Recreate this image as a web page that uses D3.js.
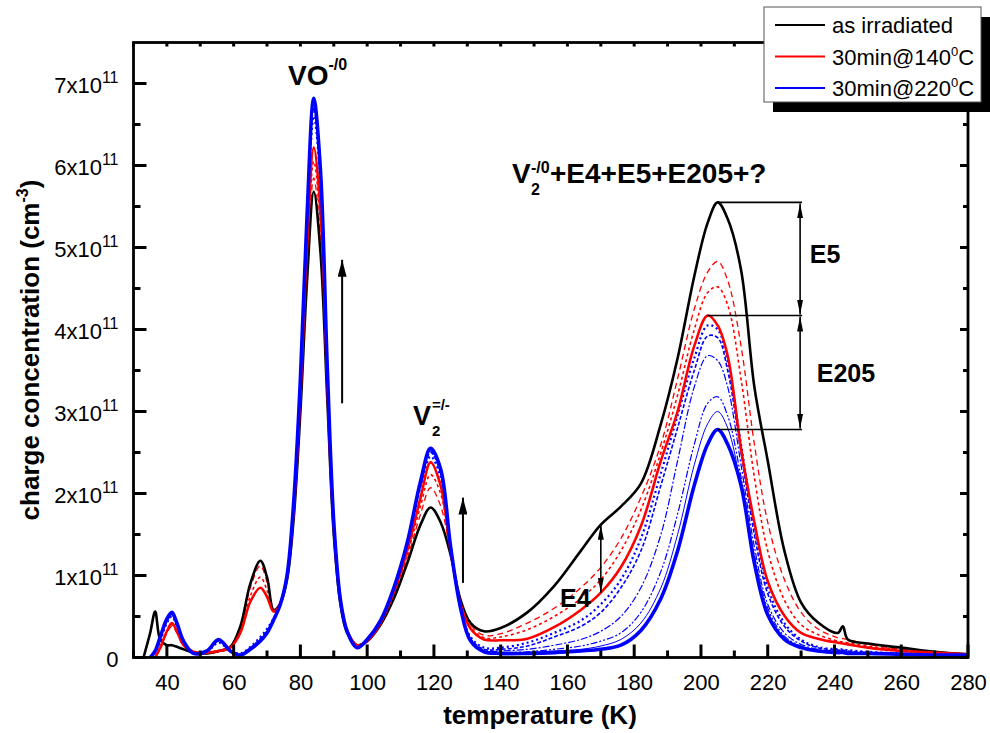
<!DOCTYPE html>
<html>
<head>
<meta charset="utf-8">
<script src="https://cdn.jsdelivr.net/npm/d3@7"></script>
<style>
  body { margin: 0; background: #fff; }
  svg { display: block; font-family: "Liberation Sans", Arial, sans-serif; }
</style>
</head>
<body>
<div id="chart"></div>
<script>
// temperature grid (K) shared by every spectrum
const temps = [
  30, 33, 35, 36.5, 38, 40, 41.5, 43, 45, 48,
  52, 55.5, 59, 62, 65, 68, 70, 72, 74, 76,
  78, 80, 82, 84, 86, 88, 90, 92, 94, 97,
  100, 104, 108, 112, 116, 119, 122, 125, 128, 131,
  135, 140, 148, 156, 164, 170, 176, 182, 188, 193,
  198, 202, 205, 208, 212, 216, 220, 225, 230, 235,
  241, 242.5, 244, 250, 260, 270, 280
];

// charge concentration, in units of 1e11 cm^-3
const asIrradiated = [
  null, 0, 0.3, 0.56, 0.22, 0.15, 0.15, 0.13, 0.1, 0.06,
  0.05, 0.08, 0.13, 0.38, 0.9, 1.18, 0.98, 0.58, 0.66, 0.95,
  1.7, 3.0, 4.6, 5.68, 4.95, 3.2, 1.5, 0.65, 0.3, 0.15,
  0.2, 0.4, 0.72, 1.15, 1.62, 1.83, 1.65, 1.25, 0.7, 0.42,
  0.32, 0.36, 0.55, 0.87, 1.3, 1.62, 1.84, 2.12, 2.85, 3.65,
  4.65, 5.3, 5.55, 5.35, 4.73, 3.3, 2.4, 1.3, 0.67, 0.43,
  0.3, 0.38, 0.22, 0.17, 0.12, 0.07, 0.04
];
const anneal140 = [
  null, null, null, 0, 0.12, 0.32, 0.42, 0.32, 0.15, 0.07,
  0.06, 0.08, 0.12, 0.3, 0.68, 0.85, 0.74, 0.56, 0.66, 1.0,
  1.8, 3.2, 5.0, 6.22, 5.45, 3.4, 1.6, 0.7, 0.33, 0.15,
  0.2, 0.42, 0.8, 1.3, 1.95, 2.38, 2.1, 1.3, 0.65, 0.35,
  0.22, 0.21, 0.23, 0.37, 0.58, 0.79, 1.1, 1.6, 2.4, 3.0,
  3.8, 4.17, 4.05, 3.68, 2.55, 1.65, 0.93, 0.51, 0.3, 0.23,
  0.18, 0.17, 0.16, 0.12, 0.08, 0.06, 0.04
];
const anneal220 = [
  null, null, 0, 0.08, 0.25, 0.47, 0.55, 0.42, 0.2, 0.05,
  0.08, 0.22, 0.08, 0.03, 0.1, 0.2, 0.3, 0.46, 0.65, 1.0,
  1.9, 3.4, 5.4, 6.82, 5.95, 3.6, 1.65, 0.7, 0.32, 0.12,
  0.22, 0.45, 0.85, 1.4, 2.15, 2.55, 2.3, 1.35, 0.6, 0.2,
  0.07, 0.05, 0.05, 0.06, 0.08, 0.1, 0.15, 0.33, 0.72, 1.3,
  2.1, 2.6, 2.78, 2.6, 2.1, 1.15, 0.52, 0.22, 0.12, 0.08,
  0.06, 0.06, 0.05, 0.05, 0.04, 0.03, 0.03
];

// intermediate annealing steps
const redDashed = [
  null, null, null, 0, 0.1, 0.3, 0.38, 0.3, 0.14, 0.06,
  0.05, 0.07, 0.12, 0.36, 0.85, 1.12, 0.92, 0.57, 0.66, 0.97,
  1.72, 3.05, 4.7, 5.85, 5.1, 3.25, 1.52, 0.66, 0.31, 0.15,
  0.2, 0.41, 0.76, 1.2, 1.75, 2.07, 1.85, 1.28, 0.68, 0.4,
  0.27, 0.29, 0.42, 0.6, 0.85, 1.1, 1.45, 1.95, 2.6, 3.4,
  4.25, 4.7, 4.83, 4.6, 3.8, 2.6, 1.65, 0.95, 0.55, 0.35,
  0.24, 0.23, 0.22, 0.16, 0.1, 0.06, 0.04
];
const redDotted = [
  null, null, null, 0, 0.11, 0.31, 0.4, 0.31, 0.15, 0.06,
  0.05, 0.07, 0.12, 0.33, 0.75, 0.98, 0.82, 0.56, 0.66, 0.98,
  1.75, 3.1, 4.85, 6.05, 5.3, 3.3, 1.55, 0.68, 0.32, 0.15,
  0.2, 0.42, 0.78, 1.25, 1.85, 2.23, 2.0, 1.3, 0.67, 0.37,
  0.24, 0.25, 0.34, 0.5, 0.72, 0.95, 1.3, 1.8, 2.5, 3.2,
  4.0, 4.45, 4.52, 4.3, 3.4, 2.2, 1.3, 0.7, 0.4, 0.28,
  0.2, 0.19, 0.18, 0.14, 0.09, 0.06, 0.04
];
const blueDotted = [
  null, null, 0, 0.06, 0.2, 0.42, 0.5, 0.38, 0.18, 0.05,
  0.07, 0.18, 0.08, 0.05, 0.13, 0.25, 0.35, 0.48, 0.66, 1.0,
  1.85, 3.3, 5.2, 6.6, 5.8, 3.5, 1.6, 0.7, 0.32, 0.13,
  0.22, 0.45, 0.85, 1.38, 2.08, 2.45, 2.2, 1.33, 0.62, 0.25,
  0.12, 0.12, 0.18, 0.3, 0.45, 0.65, 0.95, 1.45, 2.25, 2.95,
  3.65, 4.05, 4.0, 3.6, 2.6, 1.6, 0.85, 0.42, 0.22, 0.13,
  0.1, 0.1, 0.09, 0.07, 0.05, 0.04, 0.03
];
const blueDashed = [
  null, null, 0, 0.07, 0.22, 0.44, 0.52, 0.4, 0.19, 0.05,
  0.07, 0.2, 0.08, 0.04, 0.12, 0.23, 0.33, 0.47, 0.65, 1.0,
  1.87, 3.35, 5.3, 6.7, 5.85, 3.55, 1.62, 0.7, 0.32, 0.12,
  0.22, 0.45, 0.85, 1.4, 2.1, 2.5, 2.25, 1.34, 0.61, 0.23,
  0.1, 0.1, 0.14, 0.25, 0.38, 0.55, 0.85, 1.3, 2.1, 2.8,
  3.5, 3.92, 3.9, 3.5, 2.5, 1.5, 0.78, 0.38, 0.2, 0.12,
  0.09, 0.09, 0.08, 0.06, 0.05, 0.04, 0.03
];
const blueDashDot = [
  null, null, 0, 0.07, 0.23, 0.45, 0.53, 0.41, 0.2, 0.05,
  0.08, 0.21, 0.08, 0.03, 0.11, 0.21, 0.31, 0.46, 0.65, 1.0,
  1.88, 3.38, 5.35, 6.75, 5.9, 3.58, 1.64, 0.7, 0.32, 0.12,
  0.22, 0.45, 0.85, 1.4, 2.12, 2.52, 2.27, 1.34, 0.6, 0.22,
  0.08, 0.08, 0.1, 0.15, 0.22, 0.32, 0.5, 0.85, 1.5, 2.4,
  3.3, 3.68, 3.62, 3.3, 2.35, 1.35, 0.65, 0.3, 0.16, 0.1,
  0.08, 0.08, 0.07, 0.06, 0.04, 0.03, 0.03
];
const blueDashDotDot = [
  null, null, 0, 0.08, 0.24, 0.46, 0.54, 0.41, 0.2, 0.05,
  0.08, 0.22, 0.08, 0.03, 0.1, 0.2, 0.3, 0.46, 0.65, 1.0,
  1.9, 3.4, 5.35, 6.7, 5.9, 3.6, 1.65, 0.7, 0.32, 0.12,
  0.22, 0.45, 0.85, 1.4, 2.14, 2.54, 2.29, 1.35, 0.6, 0.21,
  0.07, 0.06, 0.07, 0.1, 0.14, 0.2, 0.3, 0.55, 1.05, 1.75,
  2.6, 3.1, 3.18, 2.95, 2.2, 1.25, 0.6, 0.26, 0.14, 0.09,
  0.07, 0.07, 0.06, 0.05, 0.04, 0.03, 0.03
];
const blueThin = [
  null, null, 0, 0.08, 0.25, 0.47, 0.55, 0.42, 0.2, 0.05,
  0.08, 0.22, 0.08, 0.03, 0.1, 0.2, 0.3, 0.46, 0.65, 1.0,
  1.9, 3.4, 5.4, 6.78, 5.92, 3.6, 1.65, 0.7, 0.32, 0.12,
  0.22, 0.45, 0.85, 1.4, 2.15, 2.55, 2.3, 1.35, 0.6, 0.2,
  0.07, 0.06, 0.06, 0.08, 0.1, 0.14, 0.22, 0.42, 0.85, 1.5,
  2.35, 2.85, 3.0, 2.8, 2.1, 1.2, 0.55, 0.24, 0.13, 0.08,
  0.06, 0.06, 0.06, 0.05, 0.04, 0.03, 0.03
];

const xTicks = [40, 60, 80, 100, 120, 140, 160, 180, 200, 220, 240, 260, 280];
const xMinorTicks = [30, 50, 70, 90, 110, 130, 150, 170, 190, 210, 230, 250, 270];
const yTicks = [0, 1, 2, 3, 4, 5, 6, 7];
const yMinorTicks = [0.5, 1.5, 2.5, 3.5, 4.5, 5.5, 6.5];

const legendItems = [
  { text: 'as irradiated', color: '#000' },
  { text: '30min@140', sup: '0', tail: 'C', color: '#ff0000' },
  { text: '30min@220', sup: '0', tail: 'C', color: '#0000ff' }
];

const width = 990;
const height = 733;

const svg = d3.select('#chart').append('svg')
  .attr('width', width)
  .attr('height', height);

const x = d3.scaleLinear().domain([30, 280]).range([133.5, 968]);
const y = d3.scaleLinear().domain([0, 7.5]).range([657.5, 42.5]);

const defs = svg.append('defs');
defs.append('clipPath').attr('id', 'plot')
  .append('rect')
  .attr('x', x(30)).attr('y', y(7.5))
  .attr('width', x(280) - x(30)).attr('height', y(0) - y(7.5));

function addHead(id, len, wide) {
  defs.append('marker')
    .attr('id', id)
    .attr('viewBox', `0 0 ${len} ${wide}`)
    .attr('refX', len).attr('refY', wide / 2)
    .attr('markerWidth', len).attr('markerHeight', wide)
    .attr('markerUnits', 'userSpaceOnUse')
    .attr('orient', 'auto-start-reverse')
    .append('path')
    .attr('d', `M0,0L${len},${wide / 2}L0,${wide}Z`)
    .attr('fill', '#000');
}
addHead('head', 17, 9);
addHead('headSmall', 15, 6);

// spectra, thin intermediate steps first
const series = [
  { values: blueThin, color: '#0000ff', width: 1, dash: null },
  { values: blueDashDotDot, color: '#0000ff', width: 1.2, dash: '7,2,2,2,2,2' },
  { values: blueDashDot, color: '#0000ff', width: 1.2, dash: '7,2,2,2' },
  { values: blueDashed, color: '#0000ff', width: 1.6, dash: '4,2' },
  { values: blueDotted, color: '#0000ff', width: 2.2, dash: '2,3' },
  { values: redDotted, color: '#ff0000', width: 1.6, dash: '3,3' },
  { values: redDashed, color: '#ff0000', width: 1.3, dash: '6,4' },
  { values: asIrradiated, color: '#000000', width: 2.6, dash: null },
  { values: anneal140, color: '#ff0000', width: 2.6, dash: null },
  { values: anneal220, color: '#0000ff', width: 3.6, dash: null }
];

const line = d3.line()
  .defined(d => d[1] != null)
  .x(d => x(d[0]))
  .y(d => y(d[1]))
  .curve(d3.curveCatmullRom.alpha(0.5));

svg.append('g')
  .attr('clip-path', 'url(#plot)')
  .selectAll('path')
  .data(series)
  .enter().append('path')
  .attr('d', s => line(temps.map((t, i) => [t, s.values[i]])))
  .attr('fill', 'none')
  .attr('stroke', s => s.color)
  .attr('stroke-width', s => s.width)
  .attr('stroke-dasharray', s => s.dash)
  .attr('stroke-linejoin', 'round');

// tick labels from d3 axes, tick marks drawn inward by hand
function styleAxis(g) {
  g.select('.domain').remove();
  g.selectAll('.tick line').remove();
  g.attr('font-family', null).attr('font-size', 22);
  g.selectAll('.tick text').attr('fill', '#000');
}

svg.append('g')
  .attr('transform', `translate(0,${y(0)})`)
  .call(d3.axisBottom(x).tickValues(xTicks).tickSize(0).tickPadding(17))
  .call(styleAxis);

const yAxis = svg.append('g')
  .attr('transform', `translate(${x(30)},0)`)
  .call(d3.axisLeft(y).tickValues(yTicks).tickSize(0).tickPadding(15))
  .call(styleAxis);
yAxis.selectAll('.tick text').each(function(d) {
  const t = d3.select(this).text(null).attr('dy', '0.4em');
  if (d === 0) {
    t.text('0');
    return;
  }
  t.append('tspan').text(d + 'x10');
  t.append('tspan').attr('dy', -10).attr('font-size', 16).text('11');
});

const ticks = svg.append('g')
  .attr('stroke', '#000')
  .attr('stroke-width', 3);

function xTickMarks(values, y0, len) {
  ticks.append('g').selectAll('line')
    .data(values)
    .enter().append('line')
    .attr('x1', d => x(d)).attr('x2', d => x(d))
    .attr('y1', y0).attr('y2', y0 + len);
}
function yTickMarks(values, x0, len) {
  ticks.append('g').selectAll('line')
    .data(values)
    .enter().append('line')
    .attr('y1', d => y(d)).attr('y2', d => y(d))
    .attr('x1', x0).attr('x2', x0 + len);
}
xTickMarks(xTicks, y(0), -13);
xTickMarks(xMinorTicks, y(0), -7);
xTickMarks(xTicks.concat(xMinorTicks), y(7.5), 4);
yTickMarks(yTicks, x(30), 13);
yTickMarks(yMinorTicks, x(30), 7);
yTickMarks(yTicks, x(280), -8);
yTickMarks(yMinorTicks, x(280), -5);

svg.append('rect')
  .attr('x', x(30)).attr('y', y(7.5))
  .attr('width', x(280) - x(30)).attr('height', y(0) - y(7.5))
  .attr('fill', 'none')
  .attr('stroke', '#000')
  .attr('stroke-width', 2.8);

// axis titles
svg.append('text')
  .attr('x', 540).attr('y', 724)
  .attr('text-anchor', 'middle')
  .attr('font-size', 26).attr('font-weight', 'bold')
  .text('temperature (K)');

const yTitle = svg.append('text')
  .attr('transform', 'translate(39,350) rotate(-90)')
  .attr('text-anchor', 'middle')
  .attr('font-size', 26).attr('font-weight', 'bold');
yTitle.append('tspan').text('charge concentration (cm');
yTitle.append('tspan').attr('dy', -11).attr('font-size', 16).text('-3');
yTitle.append('tspan').attr('dy', 11).text(')');

// peak labels
function label(t, v, main, size) {
  return svg.append('text')
    .attr('x', x(t)).attr('y', y(v))
    .attr('font-size', size).attr('font-weight', 'bold')
    .text(main);
}
function small(px, py, txt, size) {
  svg.append('text')
    .attr('x', px).attr('y', py)
    .attr('font-size', size).attr('font-weight', 'bold')
    .text(txt);
}

const vo = label(76.3, 6.98, 'VO', 28);
vo.append('tspan').attr('dy', -15).attr('font-size', 16).text('-/0');

label(113.7, 2.84, 'V', 27);
small(x(113.7) + 19, y(2.84) - 15, '=/-', 15);
small(x(113.7) + 19, y(2.84) + 11, '2', 15);

label(143.4, 5.79, 'V', 28);
small(x(143.4) + 19, y(5.79) - 10, '-/0', 16);
small(x(143.4) + 19, y(5.79) + 12, '2', 16);
svg.append('text')
  .attr('x', x(143.4) + 38).attr('y', y(5.79))
  .attr('font-size', 28).attr('font-weight', 'bold')
  .text('+E4+E5+E205+?');

label(232.6, 4.81, 'E5', 25);
label(234.7, 3.36, 'E205', 25);
label(157.8, 0.62, 'E4', 25);

// peak heights of the 205 K band for the E5 / E205 brackets
function peak(values) {
  let best = 0;
  temps.forEach((t, i) => {
    if (t > 190 && t < 220 && values[i] > values[best]) best = i;
  });
  return [temps[best], values[best]];
}
const bracketT = 230.3;
const arrowT = 229.7;
const peaks = [peak(asIrradiated), peak(anneal140), peak(anneal220)];

svg.append('g')
  .selectAll('line')
  .data(peaks)
  .enter().append('line')
  .attr('x1', d => x(d[0])).attr('x2', x(bracketT))
  .attr('y1', d => y(d[1])).attr('y2', d => y(d[1]))
  .attr('stroke', '#000').attr('stroke-width', 1.6);

svg.append('g')
  .selectAll('line')
  .data([[peaks[0][1], peaks[1][1]], [peaks[1][1], peaks[2][1]]])
  .enter().append('line')
  .attr('x1', x(arrowT)).attr('x2', x(arrowT))
  .attr('y1', d => y(d[0]) + 1).attr('y2', d => y(d[1]) - 1)
  .attr('stroke', '#000').attr('stroke-width', 1.6)
  .attr('marker-start', 'url(#headSmall)')
  .attr('marker-end', 'url(#headSmall)');

// E4 arrow between as-irradiated and 140 C curves at 170 K
const i170 = temps.indexOf(170);
svg.append('line')
  .attr('x1', x(170)).attr('x2', x(170))
  .attr('y1', y(asIrradiated[i170])).attr('y2', y(anneal140[i170]))
  .attr('stroke', '#000').attr('stroke-width', 1.6)
  .attr('marker-start', 'url(#headSmall)')
  .attr('marker-end', 'url(#headSmall)');

// growth arrows
const upArrows = [[92.5, 3.1, 4.85], [128.7, 0.91, 1.95]];
svg.append('g')
  .selectAll('line')
  .data(upArrows)
  .enter().append('line')
  .attr('x1', d => x(d[0])).attr('x2', d => x(d[0]))
  .attr('y1', d => y(d[1])).attr('y2', d => y(d[2]))
  .attr('stroke', '#000').attr('stroke-width', 2)
  .attr('marker-end', 'url(#head)');

// legend with drop shadow
const legend = svg.append('g').attr('transform', 'translate(764,7)');
legend.append('rect')
  .attr('x', 9).attr('y', 10)
  .attr('width', 217).attr('height', 95)
  .attr('fill', '#000');
legend.append('rect')
  .attr('width', 217).attr('height', 95)
  .attr('fill', '#fff')
  .attr('stroke', '#555').attr('stroke-width', 1);

const rows = legend.selectAll('g.row')
  .data(legendItems)
  .enter().append('g')
  .attr('class', 'row')
  .attr('transform', (_, i) => `translate(0,${18 + i * 31.5})`);
rows.append('line')
  .attr('x1', 11).attr('x2', 61)
  .attr('stroke', d => d.color)
  .attr('stroke-width', 2.2);
rows.append('text')
  .attr('x', 68).attr('y', 8)
  .attr('font-size', 22)
  .each(function(d) {
    const t = d3.select(this);
    t.append('tspan').text(d.text);
    if (d.sup) {
      t.append('tspan').attr('dy', -9).attr('font-size', 13).text(d.sup);
      t.append('tspan').attr('dy', 9).text(d.tail);
    }
  });
</script>
</body>
</html>
